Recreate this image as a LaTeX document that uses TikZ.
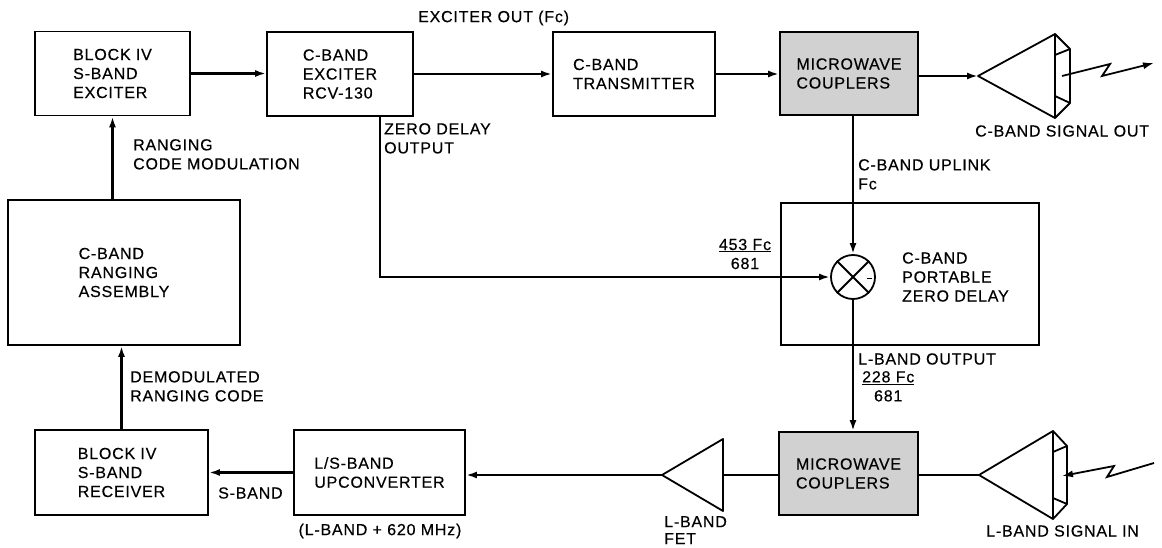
\documentclass[tikz,border=0pt]{standalone}
\usepackage{fontspec}
\setmainfont{Liberation Sans}[LetterSpace=5,FakeBold=0.4]
\usetikzlibrary{arrows.meta}
\begin{document}
\begin{tikzpicture}[x=1pt,y=-1pt,
  font=\fontsize{16}{19}\selectfont,
  box/.style={draw, line width=1.8pt, rectangle, inner sep=0pt, align=left},
  shadedbox/.style={box, fill=black!18},
  conn/.style={line width=2.6pt, -{Latex[length=11pt,width=7pt]}},
  plain/.style={line width=2.6pt},
  outline/.style={line width=1.8pt, line join=round},
  lbl/.style={align=left, inner sep=0pt},
]
\useasboundingbox (0,0) rectangle (1162,548);

% boxes
\node[box, minimum width=155pt, minimum height=84pt] (b1) at (112.5,73.5) {BLOCK IV\\S-BAND\\EXCITER};
\node[box, minimum width=146pt, minimum height=84pt] (b2) at (340,74) {C-BAND\\EXCITER\\RCV-130};
\node[box, minimum width=162pt, minimum height=84pt] (b3) at (634,74) {C-BAND\\TRANSMITTER};
\node[shadedbox, minimum width=138pt, minimum height=83pt] (b4) at (849,73.5) {MICROWAVE\\COUPLERS};
\node[box, minimum width=232pt, minimum height=145pt] (b5) at (124,272.5) {C-BAND\\RANGING\\ASSEMBLY};
\node[box, minimum width=173pt, minimum height=85pt] (b6) at (121.5,472.5) {BLOCK IV\\S-BAND\\RECEIVER};
\node[box, minimum width=171pt, minimum height=85pt] (b7) at (379.5,472.5) {L/S-BAND\\UPCONVERTER};
\node[shadedbox, minimum width=139pt, minimum height=83pt] (b8) at (848.5,473.5) {MICROWAVE\\COUPLERS};
\node[box, minimum width=258pt, minimum height=142pt] (b9) at (910,274) {};
\node[lbl, anchor=west] (b9t) at (902,277) {C-BAND\\PORTABLE\\ZERO DELAY};

% mixer
\node[draw, circle, line width=1.8pt, minimum size=44pt, inner sep=0pt] (mix) at (853,277) {};
\draw[outline] (mix.north west) -- (mix.south east);
\draw[outline] (mix.north east) -- (mix.south west);
\draw[line width=1pt] ([xshift=-9pt,yshift=-1pt]mix.east) -- ([xshift=-4pt,yshift=-1pt]mix.east);

% FET amplifier
\coordinate (fetA) at (662,475);
\coordinate (fetB) at (723,475);
\draw[outline] (fetA) -- (723,439) -- (723,511) -- cycle;

% top antenna
\coordinate (antT) at (978,76);
\draw[outline] (antT) -- (1055,34) -- (1055,118) -- cycle;
\draw[outline] (1055,34) -- (1070,49) -- (1070,103) -- (1055,118);
\draw[outline] (1055,55) -- (1070,49);
\draw[outline] (1055,96) -- (1070,103);
\coordinate (zT) at (1062,76);
\draw[line width=1.8pt, -{Latex[length=11pt,width=7pt]}] (zT) -- (1110,64) -- (1102,76) -- (1154,63);

% bottom antenna
\coordinate (antB) at (979,475);
\draw[outline] (antB) -- (1053,431) -- (1053,519) -- cycle;
\draw[outline] (1053,431) -- (1067,446) -- (1067,504) -- (1053,519);
\draw[outline] (1053,452) -- (1067,446);
\draw[outline] (1053,498) -- (1067,504);
\coordinate (zB) at (1062,476);
\draw[line width=1.8pt, -{Latex[length=11pt,width=7pt]}] (1154,463) -- (1107,477) -- (1114,466) -- (zB);

% connectors
\draw[conn] (b1.east) -- (b1.east -| b2.west);
\draw[conn] (b2.east) -- (b2.east -| b3.west);
\draw[conn] (b3.east) -- (b3.east -| b4.west);
\draw[conn] (b4.east |- antT) -- (antT);
\draw[conn] (b4.south -| mix) -- (mix.north);
\draw[conn] ([xshift=40pt]b2.south) |- (mix.west);
\draw[conn] (mix.south) -- (mix |- b8.north);
\draw[plain] (antB) -- (antB -| b8.east);
\draw[plain] (b8.west |- fetB) -- (fetB);
\draw[conn] (fetA) -- (fetA -| b7.east);
\draw[conn] (b7.west) -- (b7.west -| b6.east);
\draw[conn] (b6.north) -- (b6.north |- b5.south);
\draw[conn] (b5.north -| b1.south) -- (b1.south);

% labels
\node[lbl, anchor=west] (l1) at (418,18) {EXCITER OUT (Fc)};
\node[lbl, anchor=north west] (l2) at (384,123) {ZERO DELAY\\OUTPUT};
\node[lbl, anchor=north west] (l3) at (858,159) {C-BAND UPLINK\\Fc};
\node[lbl, align=center] (l4) at (745,254) {\underline{453 Fc}\\681};
\node[lbl, anchor=west] (l5) at (858,359) {L-BAND OUTPUT};
\node[lbl, align=center, anchor=north west] (l6) at (862,371) {\underline{228 Fc}\\681};
\node[lbl, anchor=north west] (l7) at (133,139) {RANGING\\CODE MODULATION};
\node[lbl, anchor=north west] (l8) at (130,371) {DEMODULATED\\RANGING CODE};
\node[lbl, anchor=west] (l9) at (218,493) {S-BAND};
\node[lbl] (l10) at (380,531) {(L-BAND + 620 MHz)};
\node[lbl, anchor=north west, font=\fontsize{16}{17}\selectfont] (l11) at (664,516) {L-BAND\\FET};
\node[lbl, anchor=west] (l12) at (975,131) {C-BAND SIGNAL OUT};
\node[lbl, anchor=west] (l13) at (986,531) {L-BAND SIGNAL IN};
\end{tikzpicture}
\end{document}
